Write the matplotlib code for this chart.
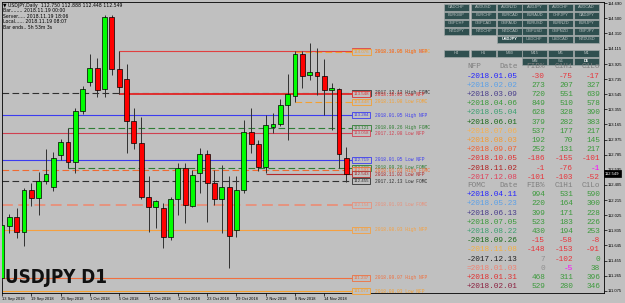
import matplotlib
matplotlib.use("Agg")
import matplotlib.pyplot as plt
from matplotlib.patches import Rectangle

# ---- candles, USDJPY D1 13 Sep 2018 .. 19 Nov 2018
opens = [111.24, 111.89, 112.00, 111.81, 112.34, 112.24, 112.46, 112.38, 112.78, 112.94,
         112.69, 113.33, 113.70, 113.87, 113.61, 114.51, 113.86, 113.74, 113.21, 112.93,
         112.25, 112.13, 112.12, 111.75, 112.23, 112.62, 112.14, 112.56, 112.79, 112.43,
         112.23, 112.38, 111.84, 112.34, 113.07, 112.92, 112.63, 113.13, 113.17, 113.41,
         113.52, 114.05, 113.79, 113.83, 113.77, 113.60, 113.61, 112.750]
highs = [111.95, 112.04, 112.12, 112.37, 112.43, 112.57, 112.86, 112.82, 112.98, 113.12,
         113.37, 113.65, 114.05, 114.00, 114.54, 114.54, 114.09, 113.93, 113.37, 113.26,
         112.52, 112.22, 112.18, 112.25, 112.68, 112.68, 112.59, 112.87, 112.85, 112.59,
         112.66, 112.52, 112.52, 113.22, 113.37, 112.97, 113.28, 113.31, 113.49, 113.80,
         114.09, 114.09, 114.19, 114.13, 113.99, 113.69, 113.62, 112.888]
lows = [111.20, 111.80, 111.74, 111.64, 112.14, 112.03, 112.42, 112.33, 112.72, 112.62,
        112.56, 113.30, 113.65, 113.51, 113.51, 113.79, 113.55, 112.81, 112.86, 112.23,
        111.81, 111.87, 111.61, 111.71, 112.03, 111.93, 112.13, 112.30, 111.94, 112.15,
        111.80, 111.36, 111.75, 112.30, 112.81, 112.58, 112.56, 113.06, 113.15, 112.97,
        113.45, 113.62, 113.72, 113.54, 113.28, 113.10, 112.62, 112.448]
closes = [111.90, 112.00, 111.81, 112.34, 112.24, 112.46, 112.54, 112.74, 112.94, 112.69,
          113.33, 113.61, 113.87, 113.60, 114.51, 113.86, 113.64, 113.21, 112.93, 112.25,
          112.13, 112.20, 111.75, 112.23, 112.62, 112.15, 112.53, 112.79, 112.43, 112.23,
          112.38, 111.77, 112.34, 113.07, 112.92, 112.63, 113.16, 113.17, 113.41, 113.55,
          114.05, 113.77, 113.83, 113.77, 113.60, 113.61, 112.79, 112.549]

date_ticks = [0, 4, 8, 12, 16, 20, 24, 28, 32, 36, 40, 44]
date_labels = ['13 Sep 2018', '19 Sep 2018', '25 Sep 2018', '1 Oct 2018', '5 Oct 2018',
               '11 Oct 2018', '17 Oct 2018', '23 Oct 2018', '29 Oct 2018', '2 Nov 2018',
               '8 Nov 2018', '14 Nov 2018']
price_ticks = [114.690, 114.500, 114.310, 114.115, 113.925, 113.735, 113.545, 113.355,
               113.165, 112.975, 112.785, 112.595, 112.405, 112.215, 112.025, 111.835,
               111.645, 111.455, 111.265, 111.075]

# ---- NFP / FOMC levels drawn on the chart
level_names = ['2018.10.05 High NFP', '2018.11.08 High FOMC', '2017.12.13 High FOMC',
               '2018.10.05 Low NFP', '2018.11.08 Low FOMC', '2018.01.05 High NFP',
               '2018.09.26 High FOMC', '2017.12.08 Low NFP', '2018.01.05 Low NFP',
               '2018.09.26 Low FOMC', '2018.01.03 High FOMC', '2018.11.02 Low NFP',
               '2017.12.13 Low FOMC', '2018.01.03 Low FOMC', '2018.08.03 High NFP',
               '2018.09.07 High NFP', '2018.08.03 Low NFP']
level_prices = [114.088, 114.076, 113.561, 113.548, 113.448, 113.284, 113.121, 113.058,
                112.719, 112.619, 112.593, 112.543, 112.455, 112.154, 111.840, 111.237,
                111.073]
level_start = [16, 40, 0, 16, 40, 0, 9, 0, 0, 9, 0, 36, 0, 0, 0, 0, 0]
level_colors = ['#e04040', '#f5a030', '#303030', '#e03030', '#f5a030', '#3c3cf0',
                '#2e7d32', '#d04050', '#3c3cf0', '#2e7d32', '#f06a30', '#b02828',
                '#303030', '#e8907a', '#f5a040', '#f07040', '#f5a030']
level_dashed = [False, True, True, False, True, False, True, False, False, True, True,
                False, True, True, False, False, False]

# ---- right panel tables
nfp_dates = ['-2018.01.05', '+2018.02.02', '+2018.03.09', '+2018.04.06', '+2018.05.04',
             '+2018.06.01', '+2018.07.06', '+2018.08.03', '+2018.09.07', '-2018.10.05',
             '-2018.11.02', '-2017.12.08']
nfp_fib = [-30, 273, 720, 849, 628, 379, 537, 192, 252, -186, -1, -101]
nfp_c1hi = [-75, 207, 551, 510, 328, 282, 177, 70, 131, -155, -76, -103]
nfp_c1lo = [-17, 327, 639, 578, 390, 383, 217, 145, 217, -101, -1, -52]
fomc_dates = ['+2018.04.11', '+2018.05.23', '+2018.06.13', '+2018.07.05', '+2018.08.22',
              '-2018.09.26', '-2018.11.08', '-2017.12.13', '=2018.01.03', '+2018.01.31',
              '+2018.02.01']
fomc_fib = [994, 220, 399, 523, 430, -15, -148, 7, 0, 468, 529]
fomc_c1hi = [531, 164, 171, 183, 194, -58, -153, -102, -5, 311, 280]
fomc_c1lo = [590, 300, 228, 226, 253, -8, -91, 0, 38, 396, 346]
date_colors = ['#2424ff', '#5aa0e8', '#483d8b', '#3a9a3a', '#3ca070', '#1a6a1a',
               '#f5b050', '#f59a30', '#f06030', '#e03030', '#b02020', '#e0405a']
fomc_colors = ['#2424ff', '#5aa0e8', '#483d8b', '#3a9a3a', '#3ca070', '#1a6a1a',
               '#f5b040', '#202020', '#f08070', '#e03030', '#8b2040']

symbols = [['CADCHF', 'AUDUSD', 'AUDNZD', 'AUDJPY', 'AUDCHF', 'AUDCAD'],
           ['EURGBP', 'EURCHF', 'EURCAD', 'EURAUD', 'CHFJPY', 'CADJPY'],
           ['GBPCHF', 'GBPCAD', 'GBPAUD', 'EURUSD', 'EURNZD', 'EURJPY'],
           ['NZDJPY', 'NZDCHF', 'NZDCAD', 'GBPUSD', 'GBPNZD', 'GBPJPY'],
           ['', '', 'USDJPY', 'USDCHF', 'USDCAD', 'NZDUSD']]
timeframes = [['H4', 'H1', 'M30', 'M15', 'M5', 'M1'], ['', '', '', 'MN', 'W1', 'D1']]

BG = '#c0c0c0'
GREEN = '#00ff00'
RED = '#ff0000'
SF = 'Liberation Sans'
W, H = 625, 303

fig = plt.figure(figsize=(W / 100, H / 100), dpi=100, facecolor=BG)
ax = fig.add_axes([2 / W, 1 - 293 / H, 602 / W, 291 / H], facecolor=BG)
ax.set_xlim(0.04, 82.17)
ax.set_ylim(111.048, 114.704)
for s in ax.spines.values():
    s.set_linewidth(0.6)
    s.set_color('black')

n = len(closes)
xs = list(range(n))

# levels
for i in range(len(level_prices)):
    ls = (0, (6, 3)) if level_dashed[i] else '-'
    lw = 1.3 if level_names[i] == '2018.01.03 Low FOMC' else 0.8
    if level_names[i] == '2018.10.05 Low NFP':
        lw = 1.4
    ax.hlines(level_prices[i], level_start[i], 47.79, colors=level_colors[i],
              linestyles=ls, lw=lw, zorder=2)
    ax.text(48.0, level_prices[i], '%.3f' % level_prices[i], fontsize=3.2,
            family=SF, color=level_colors[i], va='center', ha='left', zorder=6,
            bbox=dict(boxstyle='square,pad=0.3', fc=BG, ec=level_colors[i], lw=0.6))
    ax.text(50.9, level_prices[i], level_names[i], fontsize=3.3, family='Liberation Mono',
            color=level_colors[i], va='center', ha='left', zorder=6, clip_on=False)
# connectors at the event bars
ax.vlines(16, level_prices[3], level_prices[0], colors='#e04040', lw=0.8, zorder=2)
ax.vlines(9, level_prices[9], level_prices[6], colors='#707070', lw=0.8, zorder=2)

# candles
ax.vlines(xs, lows, highs, colors='#303030', lw=0.7, zorder=3)
bottoms = [min(o, c) for o, c in zip(opens, closes)]
heights = [max(abs(c - o), 0.02) for o, c in zip(opens, closes)]
cols = [GREEN if c >= o else RED for o, c in zip(opens, closes)]
ax.bar(xs, heights, bottom=bottoms, width=0.66, color=cols, edgecolor='black',
       linewidth=0.5, zorder=4)

ax.yaxis.tick_right()
ax.set_yticks(price_ticks)
ax.set_yticklabels(['%.3f' % v for v in price_ticks], family=SF)
ax.tick_params(axis='y', length=2, width=0.5, labelsize=3.0, pad=1, colors='black')
ax.set_xticks(date_ticks)
ax.set_xticklabels(date_labels, ha='left', family=SF)
ax.tick_params(axis='x', length=2, width=0.5, labelsize=2.9, pad=1.2, colors='black')

# last price marker
ax.text(1.002, closes[-1], '%.3f' % closes[-1], transform=ax.get_yaxis_transform(),
        fontsize=3.0, family=SF, color='white', va='center', ha='left', clip_on=False,
        zorder=7, bbox=dict(boxstyle='square,pad=0.35', fc='black', ec='black', lw=0.5))

# overlay in pixel coords for panel texts
ov = fig.add_axes([0, 0, 1, 1], zorder=10)
ov.set_xlim(0, W)
ov.set_ylim(H, 0)
ov.axis('off')
ov.patch.set_alpha(0)

info = ['\u25bc USDJPY,Daily  %.3f %.3f %.3f %.3f' % (opens[-1], highs[-1], lows[-1], closes[-1]),
        'Bar........ 2018.11.19 00:00',
        'Server..... 2018.11.19 18:06',
        'Local...... 2018.11.19 08:07',
        'Bar ends.. 5h 53m 3s']
for k, t in enumerate(info):
    ov.text(3, 5 + k * 5.6, t, fontsize=3.3, family=['DejaVu Sans'], color='black',
            va='center', ha='left')

ov.text(5, 283, 'USDJPY D1', fontsize=13.5, fontweight='bold', color='#111111',
        family='DejaVu Sans', fontstretch='condensed', va='baseline', ha='left')

# symbol and timeframe buttons
bx = [444, 471, 497, 522, 548, 574]
def button(x, y, label, hi=False):
    ov.add_patch(Rectangle((x, y), 25, 6.5, fc='#2f4f4f', ec='#a0a8a8', lw=0.5))
    ov.text(x + 12.5, y + 3.4, label, fontsize=2.9, family=SF,
            color='white' if hi else '#b8c0c0',
            va='center', ha='center', fontweight='bold' if hi else 'normal')

for r, row in enumerate(symbols):
    for c, name in enumerate(row):
        if name:
            button(bx[c], 4 + r * 8, name, hi=(name == 'USDJPY'))
for r, row in enumerate(timeframes):
    for c, name in enumerate(row):
        if name:
            button(bx[c], 50 + r * 8, name, hi=(name == 'D1'))

# tables
TF = 'Liberation Mono'
def cell_color(v):
    if v > 0:
        return '#3c9a3c'
    if v < 0:
        return '#e8333a'
    return '#909090'

overrides = {('nfp', 10, 2): '#ff00ff', ('fomc', 8, 1): '#ff00ff',
             ('fomc', 7, 0): '#909090', ('fomc', 7, 2): '#3c9a3c'}

def table(key, title, y0, dates, dcols, fib, c1hi, c1lo):
    hc = '#808080'
    ov.text(467, y0, title, fontsize=5.6, family=TF, color=hc, va='center', ha='left')
    for x, h in zip([518, 545, 573, 600], ['Date', 'FIB%', 'C1Hi', 'C1Lo']):
        ov.text(x, y0, h, fontsize=5.6, family=TF, color=hc, va='center', ha='right')
    for i in range(len(dates)):
        y = y0 + 9.2 * (i + 1)
        ov.text(467, y, dates[i], fontsize=5.6, family=TF, color=dcols[i], va='center', ha='left')
        for j, (x, v) in enumerate(zip([545, 573, 600], [fib[i], c1hi[i], c1lo[i]])):
            col = overrides.get((key, i, j), cell_color(v))
            ov.text(x, y, str(v), fontsize=5.6, family=TF, color=col, va='center', ha='right')

table('nfp', 'NFP', 67, nfp_dates, date_colors, nfp_fib, nfp_c1hi, nfp_c1lo)
table('fomc', 'FOMC', 185.5, fomc_dates, fomc_colors, fomc_fib, fomc_c1hi, fomc_c1lo)

fig.savefig('out.png', dpi=100, facecolor=BG)
